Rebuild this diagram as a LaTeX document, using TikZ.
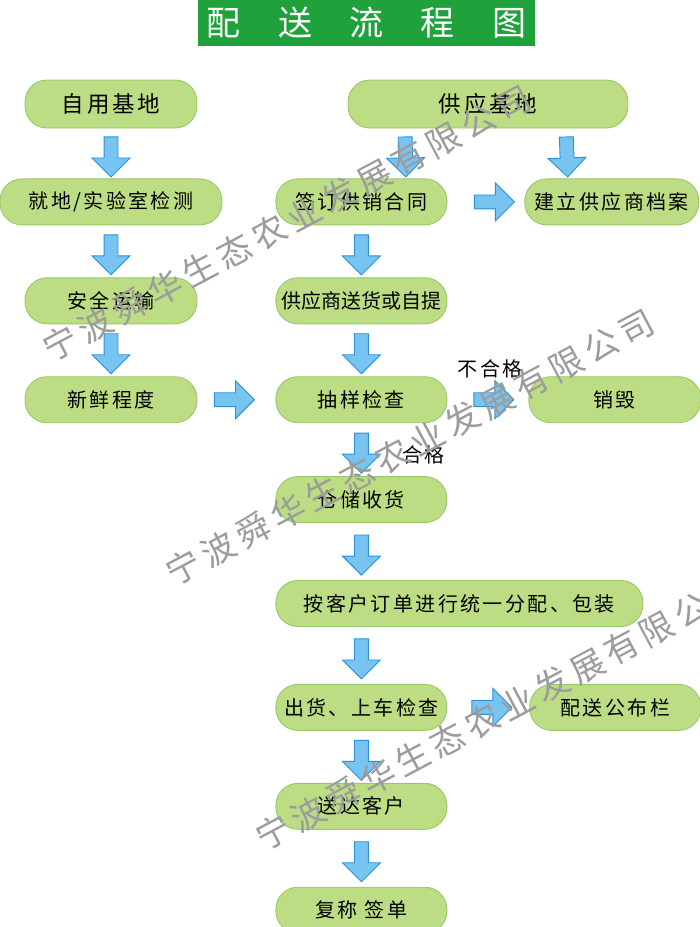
\documentclass[tikz,border=0pt]{standalone}
\usepackage{fontspec}
\newfontfamily\cjk[LetterSpace=12]{Noto Sans CJK SC}
\newfontfamily\cjktight{Noto Sans CJK SC}
\newfontfamily\titlefont[LetterSpace=110]{Noto Sans CJK SC}
\newfontfamily\wmfont[LetterSpace=16]{Noto Sans CJK SC}
\usepackage{xcolor}
\usepackage{tikz}
\usetikzlibrary{shapes.arrows, positioning, calc}
\definecolor{nodefill}{HTML}{BCDD84}
\definecolor{nodeline}{HTML}{98C868}
\definecolor{arrowfill}{HTML}{78C4F0}
\definecolor{arrowline}{HTML}{2B90D9}
\definecolor{titlegreen}{HTML}{1FA23C}
\definecolor{wmgray}{HTML}{9C9C9C}
\tikzset{
  stepnode/.style={rectangle, rounded corners=22pt, minimum width=172pt, minimum height=46pt, inner sep=0pt, draw=nodeline, fill=nodefill, line width=0.9pt, text=black, font={\cjk\fontsize{20pt}{24pt}\selectfont}},
  bigstep/.style={stepnode, minimum height=48pt, font={\cjk\fontsize{22.5pt}{26pt}\selectfont}},
  titlebox/.style={rectangle, minimum width=337pt, minimum height=46pt, inner sep=0pt, fill=titlegreen, text=white, font={\titlefont\fontsize{34pt}{40pt}\selectfont}},
  blockarrow/.style={single arrow, minimum height=40pt, minimum width=37pt, single arrow head extend=12pt, inner xsep=0pt, inner ysep=6.5pt, draw=arrowline, fill=arrowfill, line width=0.9pt, sloped, allow upside down},
  lbl/.style={inner sep=0pt, font={\cjk\fontsize{20pt}{24pt}\selectfont}},
  watermark/.style={inner sep=0pt, text=wmgray, font={\wmfont\fontsize{34pt}{40pt}\selectfont}}
}
\begin{document}
\begin{tikzpicture}[x=1pt, y=-1pt]
\useasboundingbox (0,0) rectangle (700,927);
% title
\node[titlebox] (title) at (366.5,23) {配送流程图};

% left column
\node[bigstep] (zy) at (111,104) {自用基地};
\node[stepnode, minimum width=222pt, below=50pt of zy] (jd) {就地/实验室检测};
\node[stepnode, below=52pt of jd] (aq) {安全运输};
\node[stepnode, below=52pt of aq] (xx) {新鲜程度};

% middle column
\node[bigstep, minimum width=280pt] (gy) at (488,104) {供应基地};
\node[stepnode, minimum width=171pt, right=53pt of jd] (qd) {签订供销合同};
\node[stepnode, minimum width=171pt, below=52pt of qd, font={\cjktight\fontsize{20pt}{24pt}\selectfont}] (gh) {供应商送货或自提};
\node[stepnode, minimum width=171pt, below=52pt of gh] (cy) {抽样检查};
\node[stepnode, minimum width=171pt, below=53pt of cy] (cc) {仓储收货};
\node[stepnode, minimum width=367pt, below=57pt of cc.south west, anchor=north west] (fp) {按客户订单进行统一分配、包装};
\node[stepnode, minimum width=171pt, below=57pt of fp.south west, anchor=north west] (ch) {出货、上车检查};
\node[stepnode, minimum width=171pt, below=52pt of ch] (sd) {送达客户};
\node[stepnode, minimum width=171pt, below=57pt of sd] (fc) {复称 签单};

% right column
\node[stepnode, minimum width=174pt, right=77pt of qd] (jl) {建立供应商档案};
\node[stepnode, right=81pt of cy] (xh) {销毁};
\node[stepnode, minimum width=171pt, right=82pt of ch] (pg) {配送公布栏};

% block arrows
\path (zy) -- node[blockarrow] (a1) {} (jd);
\path (jd) -- node[blockarrow] (a2) {} (aq);
\path (aq) -- node[blockarrow] (a3) {} (xx);
\path ([xshift=-83pt]gy.south) -- node[blockarrow] (a4) {} ([xshift=44.5pt]qd.north);
\path ([xshift=78pt]gy.south) -- node[blockarrow] (a5) {} ([xshift=-44pt]jl.north);
\path ([xshift=10pt]qd.east) -- node[blockarrow] (a6) {} (jl);
\path (qd) -- node[blockarrow] (a7) {} (gh);
\path (gh) -- node[blockarrow] (a8) {} (cy);
\path (xx) -- node[blockarrow] (a9) {} ([xshift=-11pt]cy.west);
\path ([xshift=5pt]cy.east) -- node[blockarrow] (a10) {} node[lbl, yshift=31pt] (ng) {不合格} (xh);
\path (cy) -- node[blockarrow] (a11) {} node[lbl, xshift=62pt, yshift=-5pt] (ok) {合格} (cc);
\path (cc) -- node[blockarrow] (a12) {} (cc |- fp.north);
\path (fp.south -| ch) -- node[blockarrow] (a13) {} (ch);
\path (ch) -- node[blockarrow] (a14) {} (pg);
\path (ch) -- node[blockarrow] (a15) {} (sd);
\path (sd) -- node[blockarrow] (a16) {} (fc);

% watermarks
\node[watermark, rotate=28] (wm1) at (287,223) {宁波舜华生态农业发展有限公司};
\node[watermark, rotate=28] (wm2) at (410,447) {宁波舜华生态农业发展有限公司};
\node[watermark, rotate=28] (wm3) at (500,712) {宁波舜华生态农业发展有限公司};
\end{tikzpicture}
\end{document}
